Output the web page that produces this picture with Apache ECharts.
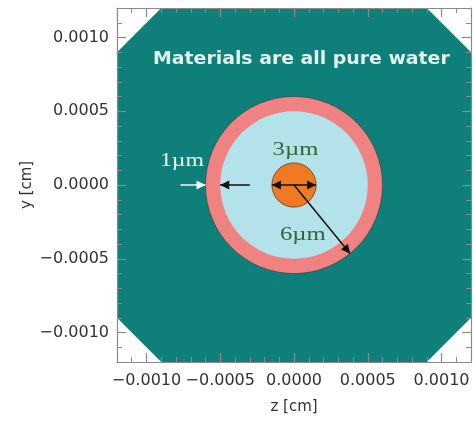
<!DOCTYPE html>
<html>
<head>
<meta charset="utf-8">
<script src="https://cdn.jsdelivr.net/npm/echarts@6/dist/echarts.min.js"></script>
<style>
  html, body { margin: 0; padding: 0; background: #ffffff; }
  #chart { width: 473px; height: 421px; }
</style>
</head>
<body>
<div id="chart"></div>
<script>
// Geometry of the simulated world (all values in cm)
const axisMin = -0.0012;
const axisMax = 0.0012;
const minorStep = 0.0001;
const majorTicks = [-0.001, -0.0005, 0, 0.0005, 0.001];
const tickLabels = ['\u22120.0010', '\u22120.0005', '0.0000', '0.0005', '0.0010'];

// Octagonal world volume (z, y) vertices
const worldOutlineZ = [-0.0009, 0.0009, 0.0012, 0.0012, 0.0009, -0.0009, -0.0012, -0.0012];
const worldOutlineY = [0.0012, 0.0012, 0.0009, -0.0009, -0.0012, -0.0012, -0.0009, 0.0009];

// Cell layers: membrane (outer 6 µm), cytoplasm (5 µm), nucleus (3 µm diameter)
const layerNames = ['membrane', 'cytoplasm', 'nucleus'];
const layerRadius = [0.0006, 0.0005, 0.00015];
const cellCenter = [0, 0];

// Dimension arrows: [z1, y1, z2, y2]
const arrowMembraneOuter = [-0.00077, 0, -0.0006, 0];
const arrowMembraneInner = [-0.0003, 0, -0.0005, 0];
const arrowNucleus = [-0.00015, 0, 0.00015, 0];
const arrowCellRadius = [0, 0, 0.00038, -0.000465];

// Annotation text anchors
const noteTexts = ['Materials are all pure water', '1\u00b5m', '3\u00b5m', '6\u00b5m'];
const noteZ = [0.00005, -0.00076, 0.00001, 0.00006];
const noteY = [0.00085, 0.00016, 0.00024, -0.00034];

// ---- styling ----
const frameColor = '#8a8a8a';
const labelColor = '#333333';
const worldColor = '#0e7f79';
const layerFill = ['#f08282', '#b3e2ea', '#f07a22'];
const layerStroke = ['rgba(40,40,40,0.45)', 'rgba(0,0,0,0)', 'rgba(60,30,0,0.6)'];
const noteStyle = [
  { font: 'bold 17px "DejaVu Sans"', color: '#e3f0ee', scaleX: 1.11 },
  { font: '19px "Liberation Serif"', color: '#eef6f4', scaleX: 1.25 },
  { font: '19px "Liberation Serif"', color: '#2e6a38', scaleX: 1.3 },
  { font: '19px "Liberation Serif"', color: '#2e6a38', scaleX: 1.3 }
];

function labelFor(v) {
  const i = majorTicks.findIndex(t => Math.abs(t - v) < 1e-9);
  return i >= 0 ? tickLabels[i] : '';
}

function majorAxis(position, withLabels, name, nameGap) {
  return {
    type: 'value', position: position, min: axisMin, max: axisMax,
    z: 10,
    name: name || '', nameLocation: 'middle', nameGap: nameGap || 0,
    nameMoveOverlap: false,
    nameTextStyle: { fontFamily: 'DejaVu Sans', fontSize: 15, color: labelColor },
    axisLine: { show: true, onZero: false, lineStyle: { color: frameColor, width: 1.2 } },
    axisTick: { show: true, inside: true, length: 9, customValues: majorTicks,
                lineStyle: { color: frameColor, width: 1.2 } },
    axisLabel: { show: withLabels, customValues: majorTicks, formatter: labelFor,
                 fontFamily: 'DejaVu Sans', fontSize: 16, color: labelColor,
                 margin: position === 'bottom' ? 11 : 8 },
    splitLine: { show: false }
  };
}

function minorAxis(position) {
  return {
    type: 'value', position: position, min: axisMin, max: axisMax, interval: minorStep,
    z: 10,
    axisLine: { show: false, onZero: false },
    axisTick: { show: true, inside: true, length: 5, lineStyle: { color: frameColor, width: 1 } },
    axisLabel: { show: false },
    splitLine: { show: false }
  };
}

function arrowHead(tip, from, size, color) {
  const dx = tip[0] - from[0], dy = tip[1] - from[1];
  const len = Math.sqrt(dx * dx + dy * dy) || 1;
  const ux = dx / len, uy = dy / len;
  const bx = tip[0] - ux * size, by = tip[1] - uy * size;
  const w = size * 0.5;
  return {
    type: 'polygon',
    shape: { points: [tip, [bx - uy * w, by + ux * w], [bx + uy * w, by - ux * w]] },
    style: { fill: color }
  };
}

function arrowSeries(row, color, bothEnds) {
  return {
    type: 'custom', coordinateSystem: 'cartesian2d', xAxisIndex: 0, yAxisIndex: 0,
    z: 6, silent: true,
    data: [row],
    encode: { x: [0, 2], y: [1, 3] },
    renderItem: function (params, api) {
      const p1 = api.coord([api.value(0), api.value(1)]);
      const p2 = api.coord([api.value(2), api.value(3)]);
      const children = [{
        type: 'line',
        shape: { x1: p1[0], y1: p1[1], x2: p2[0], y2: p2[1] },
        style: { stroke: color, lineWidth: 1.5 }
      }, arrowHead(p2, p1, 9, color)];
      if (bothEnds) children.push(arrowHead(p1, p2, 9, color));
      return { type: 'group', children: children };
    }
  };
}

const chart = echarts.init(document.getElementById('chart'), null, { renderer: 'canvas' });

const option = {
  backgroundColor: '#ffffff',
  animation: false,
  grid: { left: 117, top: 8, right: 2, bottom: 59, containLabel: false },
  xAxis: [
    majorAxis('bottom', true, 'z [cm]', 38),
    minorAxis('bottom'),
    majorAxis('top', false),
    minorAxis('top')
  ],
  yAxis: [
    majorAxis('left', true, 'y [cm]', 82),
    minorAxis('left'),
    majorAxis('right', false),
    minorAxis('right')
  ],
  series: [
    {
      // world volume
      type: 'custom', coordinateSystem: 'cartesian2d', xAxisIndex: 0, yAxisIndex: 0,
      z: 2, silent: true,
      data: worldOutlineZ.map((z, i) => [z, worldOutlineY[i]]),
      renderItem: function (params, api) {
        if (params.dataIndex !== 0) return null;
        const pts = worldOutlineZ.map((z, i) => api.coord([z, worldOutlineY[i]]));
        return { type: 'polygon', shape: { points: pts }, style: { fill: worldColor } };
      }
    },
    {
      // cell layers
      type: 'custom', coordinateSystem: 'cartesian2d', xAxisIndex: 0, yAxisIndex: 0,
      z: 3, silent: true,
      data: layerRadius.map(r => [cellCenter[0], cellCenter[1], r]),
      renderItem: function (params, api) {
        const c = api.coord([api.value(0), api.value(1)]);
        const r = api.size([api.value(2), 0])[0];
        return {
          type: 'circle',
          shape: { cx: c[0], cy: c[1], r: r },
          style: { fill: layerFill[params.dataIndex], stroke: layerStroke[params.dataIndex], lineWidth: 1 }
        };
      }
    },
    arrowSeries(arrowMembraneOuter, '#f4f8f8', false),
    arrowSeries(arrowMembraneInner, '#111111', false),
    arrowSeries(arrowNucleus, '#111111', true),
    arrowSeries(arrowCellRadius, '#111111', false),
    {
      // annotations
      type: 'custom', coordinateSystem: 'cartesian2d', xAxisIndex: 0, yAxisIndex: 0,
      z: 8, silent: true,
      data: noteZ.map((z, i) => [z, noteY[i]]),
      renderItem: function (params, api) {
        const p = api.coord([api.value(0), api.value(1)]);
        const s = noteStyle[params.dataIndex];
        return {
          type: 'text', x: p[0], y: p[1], scaleX: s.scaleX,
          style: {
            text: noteTexts[params.dataIndex], font: s.font, fill: s.color,
            align: 'center', verticalAlign: 'middle'
          }
        };
      }
    }
  ]
};

chart.setOption(option);
</script>
</body>
</html>
